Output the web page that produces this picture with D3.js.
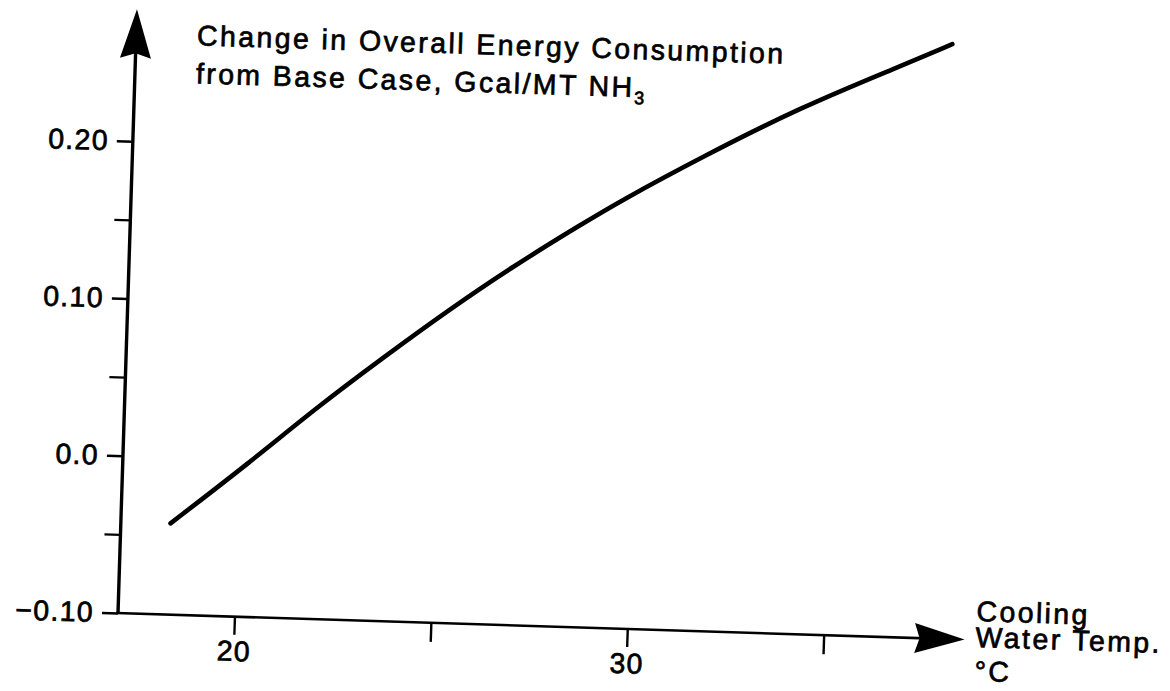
<!DOCTYPE html>
<html><head><meta charset="utf-8">
<script src="https://cdn.jsdelivr.net/npm/d3@7"></script>
<style>
html,body{margin:0;padding:0;background:#fff;}
svg{display:block;}
text{font-family:"Liberation Sans", Arial, Helvetica, sans-serif; fill:#000;}
</style></head><body>
<svg id="chart" width="1170" height="691"></svg>
<script>
// ---- data ----
const temperature  = [18.3, 20.3, 21.9, 23.6, 25.2, 26.8, 28.5, 29.5, 31.5, 34.0, 36.5, 37.8];
const energyChange = [-0.042, -0.001, 0.034, 0.068, 0.099, 0.128, 0.156, 0.172, 0.201, 0.235, 0.263, 0.278];
const xMajorTicks  = [20, 30];
const xMajorLabels = ["20", "30"];
const xMinorTicks  = [25, 35];
const yMajorTicks  = [-0.10, 0.0, 0.10, 0.20];
const yMajorLabels = ["\u22120.10", "0.0", "0.10", "0.20"];
const yMinorTicks  = [-0.05, 0.05, 0.15];
const yTitleLines  = ["Change in Overall Energy Consumption", "from Base Case, Gcal/MT NH"];
const yTitleSub    = "3";
const xTitleLines  = ["Cooling", "Water Temp.", "\u00B0C"];

// ---- layout ----
const svg = d3.select("#chart");
const O = {x: 118, y: 613};
const tilt = 1.8;
const g = svg.append("g").attr("transform", `rotate(${tilt},${O.x},${O.y})`);

const x = d3.scaleLinear().domain([20, 30]).range([234.5, 627.5]);
const y = d3.scaleLinear().domain([-0.1, 0.2]).range([O.y, O.y - 472]);

const xAxisLen = 847, yAxisLen = 604;
const FS = 28.5;

// axis lines
g.append("line").attr("x1", O.x).attr("y1", O.y).attr("x2", O.x).attr("y2", O.y - yAxisLen + 30)
  .attr("stroke", "#000").attr("stroke-width", 3.4);
g.append("line").attr("x1", O.x - 1.5).attr("y1", O.y).attr("x2", O.x + xAxisLen - 30).attr("y2", O.y)
  .attr("stroke", "#000").attr("stroke-width", 2.6);

// arrowheads
const yTip = O.y - yAxisLen, yBase = yTip + 46;
g.append("path")
  .attr("d", `M${O.x},${yTip} L${O.x + 15.5},${yBase + 3} L${O.x},${yBase - 2} L${O.x - 15.5},${yBase + 3} Z`)
  .attr("fill", "#000");
const xTip = O.x + xAxisLen, xBase = xTip - 47;
g.append("path")
  .attr("d", `M${xTip},${O.y} L${xBase - 3},${O.y - 15} L${xBase + 2},${O.y} L${xBase - 3},${O.y + 15} Z`)
  .attr("fill", "#000");

// text weight helper (scanned print is heavier than regular)
function heavy(sel) { return sel.attr("stroke", "#000").attr("stroke-width", 0.7).attr("paint-order", "stroke"); }

function styleAxis(sel) {
  sel.select(".domain").remove();
  sel.selectAll(".tick line").attr("stroke", "#000").attr("stroke-width", 2.4);
  sel.selectAll(".tick text").attr("font-size", FS).attr("letter-spacing", 1.3)
    .attr("font-family", '"Liberation Sans", Arial, sans-serif').attr("fill", "#000").call(heavy);
}
// y axis ticks
g.append("g").attr("transform", `translate(${O.x},0)`)
  .call(d3.axisLeft(y).tickValues(yMajorTicks).tickSize(16).tickPadding(8)
    .tickFormat((d, i) => yMajorLabels[i]))
  .call(styleAxis);
g.append("g").attr("transform", `translate(${O.x},0)`)
  .call(d3.axisLeft(y).tickValues(yMinorTicks).tickSize(16).tickFormat(() => ""))
  .call(styleAxis);

// x axis ticks
g.append("g").attr("transform", `translate(0,${O.y})`)
  .call(d3.axisBottom(x).tickValues(xMajorTicks).tickSize(18).tickPadding(6)
    .tickFormat((d, i) => xMajorLabels[i]))
  .call(styleAxis);
g.append("g").attr("transform", `translate(0,${O.y})`)
  .call(d3.axisBottom(x).tickValues(xMinorTicks).tickSize(19).tickFormat(() => ""))
  .call(styleAxis);

// curve
const pts = temperature.map((t, i) => [t, energyChange[i]]);
g.append("path").datum(pts)
  .attr("d", d3.line().x(d => x(d[0])).y(d => y(d[1])).curve(d3.curveBasis))
  .attr("fill", "none").attr("stroke", "#000").attr("stroke-width", 4.6)
  .attr("stroke-linecap", "round");

// y title
yTitleLines.forEach((s, i) => {
  const t = g.append("text").attr("x", 179).attr("y", 43 + i * 38)
    .attr("font-size", FS).attr("letter-spacing", 2.4).text(s).call(heavy);
  if (i === yTitleLines.length - 1) {
    t.append("tspan").attr("font-size", 18).attr("dy", 7).attr("letter-spacing", 0).text(yTitleSub);
  }
});

// x title
const xtY = [594, 620, 654];
xTitleLines.forEach((s, i) => {
  g.append("text").attr("x", 976).attr("y", xtY[i])
    .attr("font-size", FS).attr("letter-spacing", 2.4).text(s).call(heavy);
});
</script>
</body></html>
